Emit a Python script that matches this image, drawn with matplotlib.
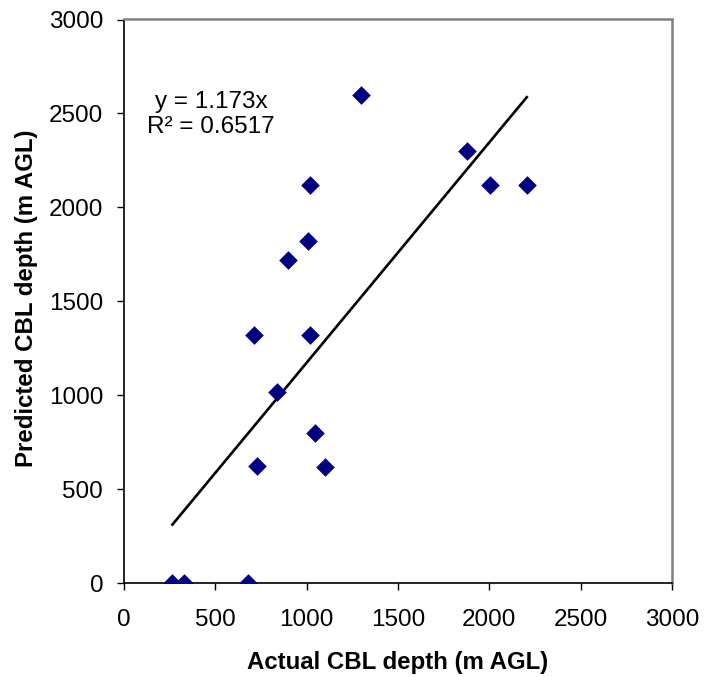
import matplotlib
matplotlib.use("Agg")
import matplotlib.pyplot as plt
import numpy as np

plt.rcParams['font.family'] = ['Liberation Sans', 'DejaVu Sans']

# Data
actual = [265, 330, 677, 710, 730, 835, 900, 1010, 1020, 1020, 1045, 1100, 1300, 1879, 2005, 2205]
predicted = [0, 0, 0, 1320, 625, 1015, 1720, 1820, 2120, 1320, 800, 620, 2600, 2300, 2120, 2120]
slope = 1.173
r2 = 0.6517
xticks = [0, 500, 1000, 1500, 2000, 2500, 3000]
yticks = [0, 500, 1000, 1500, 2000, 2500, 3000]

fig = plt.figure(figsize=(7.04, 6.77), dpi=100)
ax = fig.add_axes([124/704, 94/677, 548/704, 563.5/677])

ax.scatter(actual, predicted, marker='D', s=90, color='#000080', zorder=3, linewidths=0)

xs = np.array([min(actual), max(actual)])
ax.plot(xs, slope * xs, color='black', linewidth=1.9, zorder=2)

ax.text(476, 2495, f"y = {slope}x\nR\u00b2 = {r2}", ha='center', va='center',
        fontsize=17.5, linespacing=1.2)

ax.set_xlim(0, 3000)
ax.set_ylim(0, 3000)
ax.set_xticks(xticks)
ax.set_yticks(yticks)
ax.tick_params(axis='both', direction='out', length=5, width=1, labelsize=17.5, colors='black')
ax.tick_params(axis='x', pad=14)
ax.tick_params(axis='y', pad=10)

for s in ['left', 'bottom']:
    ax.spines[s].set_color('black')
    ax.spines[s].set_linewidth(1.2)
for s in ['top', 'right']:
    ax.spines[s].set_color('#808080')
    ax.spines[s].set_linewidth(1.8)

ax.set_xlabel('Actual CBL depth (m AGL)', fontsize=17.3, fontweight='bold')
ax.set_ylabel('Predicted CBL depth (m AGL)', fontsize=17.3, fontweight='bold')
ax.xaxis.label.set_va('center')
ax.yaxis.label.set_va('center')
ax.xaxis.set_label_coords(0.5, (583 - 662) / 563.5)
ax.yaxis.set_label_coords((27 - 124) / 548, (583 - 298) / 563.5)

fig.savefig('out.png', dpi=100)
